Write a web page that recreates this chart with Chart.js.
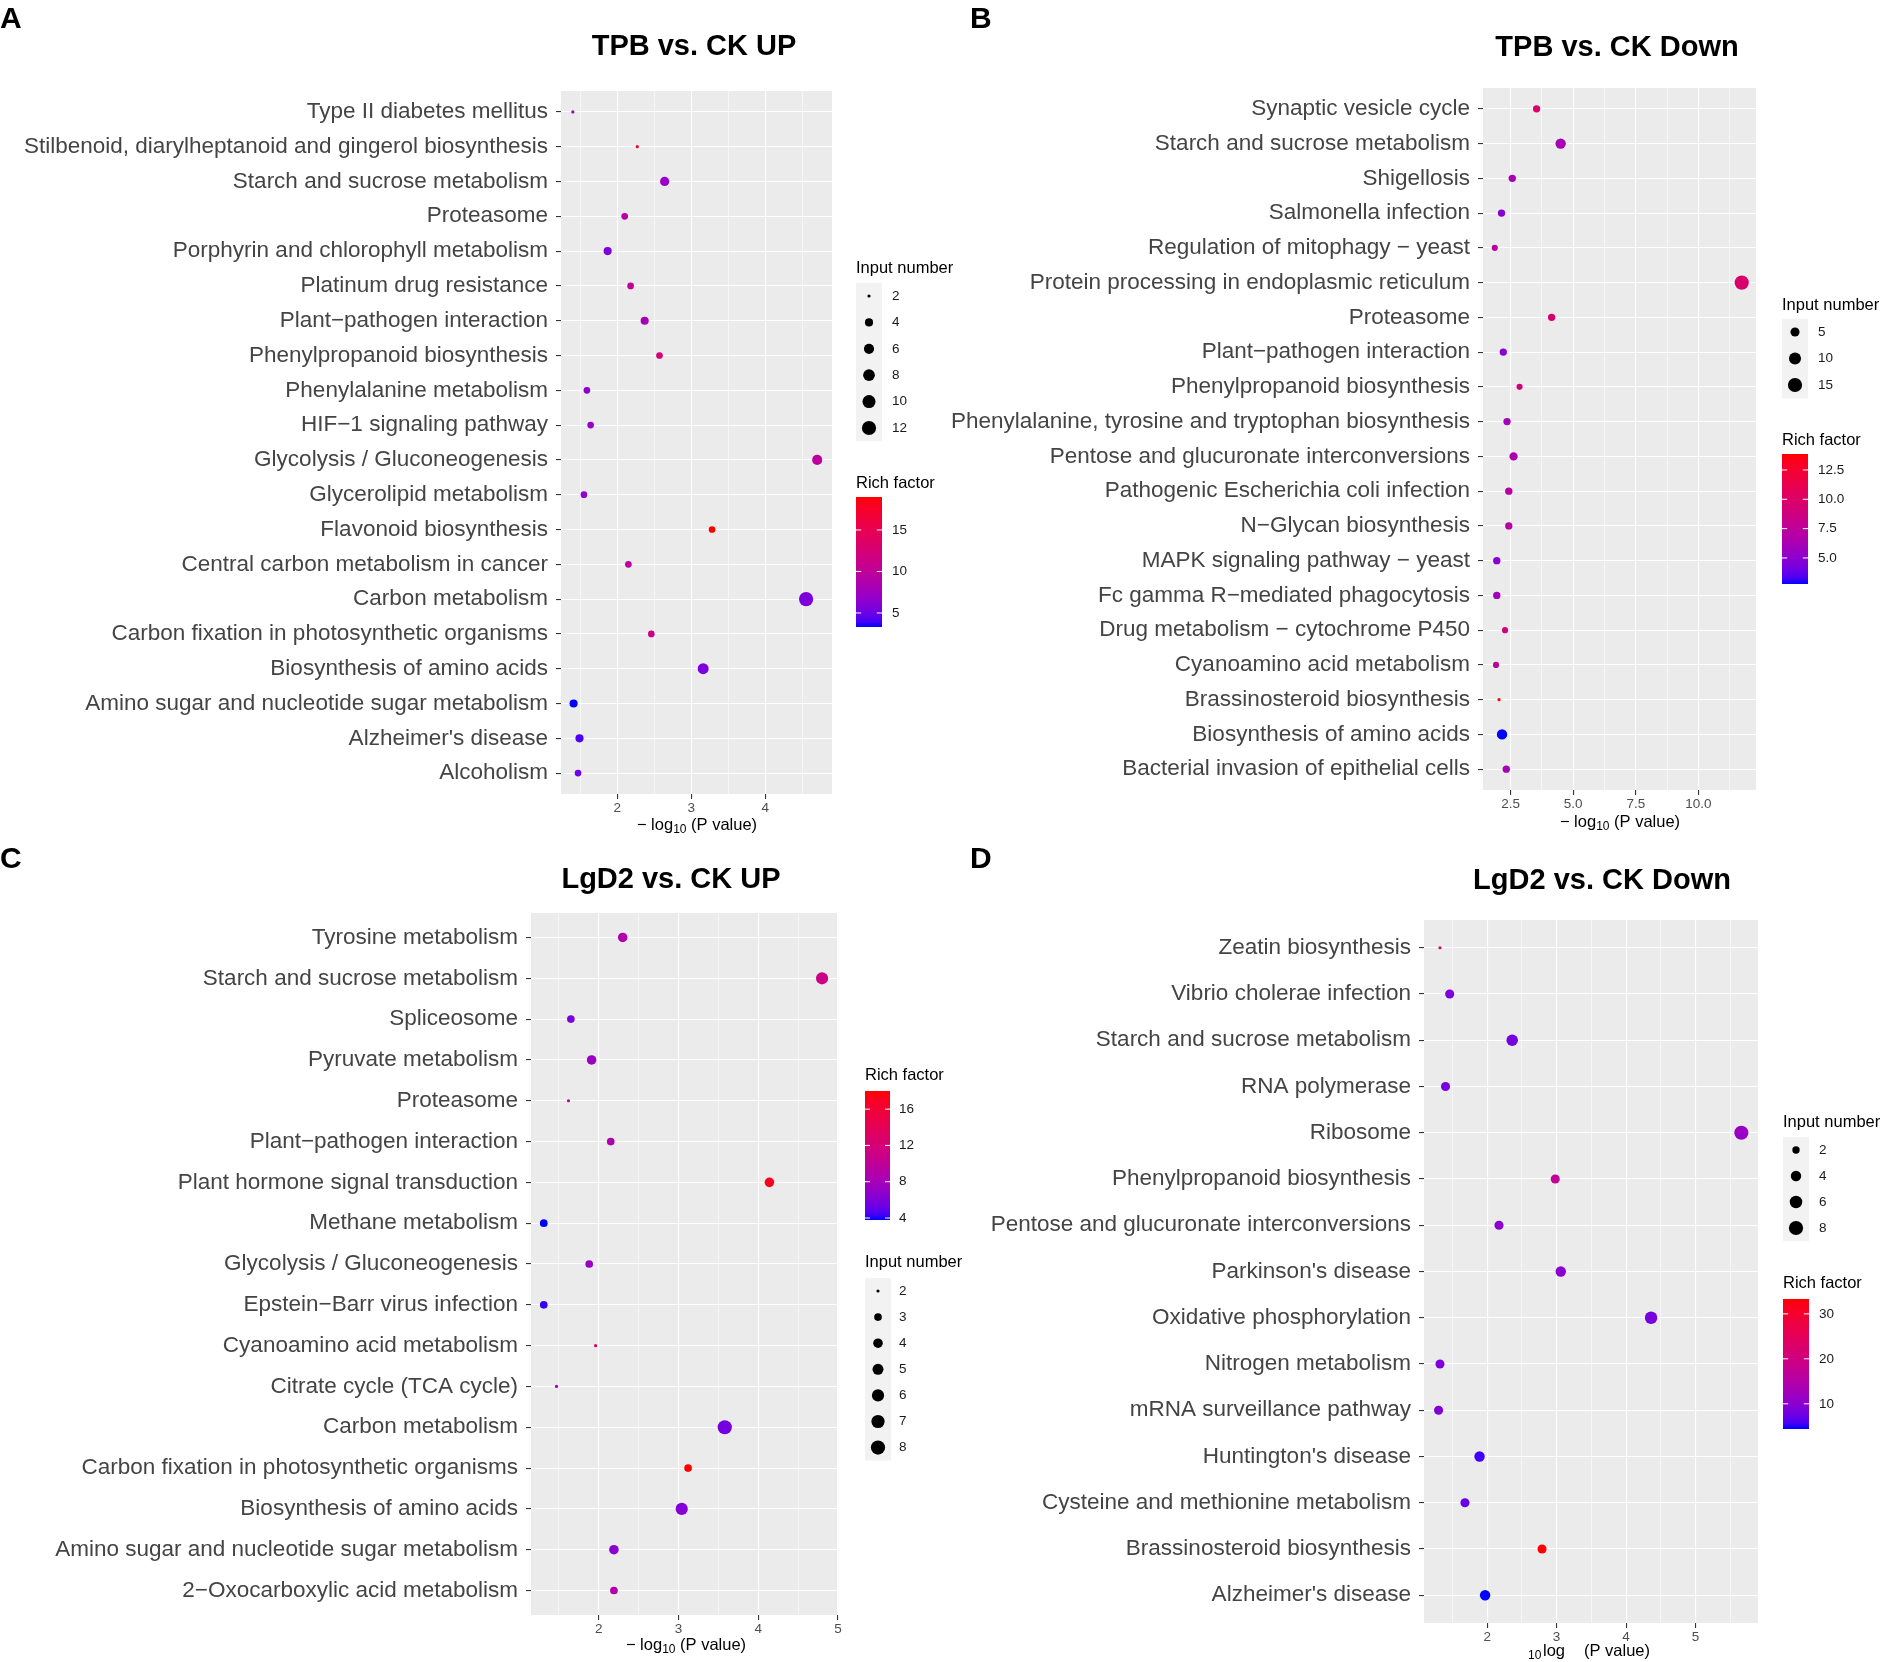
<!DOCTYPE html>
<html>
<head>
<meta charset="utf-8">
<script src="https://cdn.jsdelivr.net/npm/chart.js@4.4.1/dist/chart.umd.min.js"></script>
<style>
  html, body { margin: 0; padding: 0; background: #fff; }
  #wrap { position: relative; width: 1892px; height: 1662px; overflow: hidden; }
  canvas { position: absolute; left: 0; top: 0; }
</style>
</head>
<body>
<div id="wrap">
  <canvas id="pa" width="1892" height="1662"></canvas>
  <canvas id="pb" width="1892" height="1662"></canvas>
  <canvas id="pc" width="1892" height="1662"></canvas>
  <canvas id="pd" width="1892" height="1662"></canvas>
</div>
<script>
// ---- data, rows listed top to bottom as in the figure ----
const aCats = ['Type II diabetes mellitus', 'Stilbenoid, diarylheptanoid and gingerol biosynthesis',
  'Starch and sucrose metabolism', 'Proteasome', 'Porphyrin and chlorophyll metabolism',
  'Platinum drug resistance', 'Plant\u2212pathogen interaction', 'Phenylpropanoid biosynthesis',
  'Phenylalanine metabolism', 'HIF\u22121 signaling pathway', 'Glycolysis / Gluconeogenesis',
  'Glycerolipid metabolism', 'Flavonoid biosynthesis', 'Central carbon metabolism in cancer',
  'Carbon metabolism', 'Carbon fixation in photosynthetic organisms', 'Biosynthesis of amino acids',
  'Amino sugar and nucleotide sugar metabolism', "Alzheimer's disease", 'Alcoholism']
const aLogP = [1.40, 2.27, 2.64, 2.10, 1.87, 2.18, 2.37, 2.57, 1.59, 1.64, 4.70, 1.55, 3.28, 2.15, 4.55, 2.46, 3.16, 1.41, 1.49, 1.47]
const aCount = [2, 2, 5, 3, 4, 3, 4, 3, 3, 3, 6, 3, 3, 3, 12, 3, 7, 4, 4, 3]
const aRich = [7.2, 17.0, 7.0, 9.3, 5.7, 10.3, 8.0, 12.4, 6.4, 7.0, 9.9, 6.8, 18.97, 9.9, 5.7, 11.1, 5.6, 3.31, 4.1, 5.2]
const aSizeBreaks = [2, 4, 6, 8, 10, 12]
const aRichBreaks = [5, 10, 15]

const bCats = ['Synaptic vesicle cycle', 'Starch and sucrose metabolism', 'Shigellosis', 'Salmonella infection',
  'Regulation of mitophagy \u2212 yeast', 'Protein processing in endoplasmic reticulum', 'Proteasome',
  'Plant\u2212pathogen interaction', 'Phenylpropanoid biosynthesis',
  'Phenylalanine, tyrosine and tryptophan biosynthesis', 'Pentose and glucuronate interconversions',
  'Pathogenic Escherichia coli infection', 'N\u2212Glycan biosynthesis', 'MAPK signaling pathway \u2212 yeast',
  'Fc gamma R\u2212mediated phagocytosis', 'Drug metabolism \u2212 cytochrome P450', 'Cyanoamino acid metabolism',
  'Brassinosteroid biosynthesis', 'Biosynthesis of amino acids', 'Bacterial invasion of epithelial cells']
const bLogP = [3.54, 4.50, 2.57, 2.14, 1.87, 11.73, 4.14, 2.21, 2.86, 2.36, 2.62, 2.43, 2.43, 1.95, 1.95, 2.28, 1.92, 2.04, 2.16, 2.33]
const bCount = [3, 7, 3, 3, 2, 15, 3, 3, 2, 3, 4, 3, 3, 3, 3, 2, 2, 1, 7, 3]
const bRich = [9.6, 6.2, 6.2, 4.7, 7.2, 9.7, 9.4, 4.9, 8.9, 5.9, 6.4, 7.0, 7.0, 4.9, 5.9, 8.9, 7.3, 13.86, 2.78, 6.1]
const bSizeBreaks = [5, 10, 15]
const bRichBreaks = [5, 7.5, 10, 12.5]

const cCats = ['Tyrosine metabolism', 'Starch and sucrose metabolism', 'Spliceosome', 'Pyruvate metabolism',
  'Proteasome', 'Plant\u2212pathogen interaction', 'Plant hormone signal transduction', 'Methane metabolism',
  'Glycolysis / Gluconeogenesis', 'Epstein\u2212Barr virus infection', 'Cyanoamino acid metabolism',
  'Citrate cycle (TCA cycle)', 'Carbon metabolism', 'Carbon fixation in photosynthetic organisms',
  'Biosynthesis of amino acids', 'Amino sugar and nucleotide sugar metabolism', '2\u2212Oxocarboxylic acid metabolism']
const cLogP = [2.30, 4.80, 1.65, 1.91, 1.62, 2.15, 4.14, 1.31, 1.88, 1.31, 1.96, 1.47, 3.58, 3.12, 3.04, 2.19, 2.19]
const cCount = [4, 6, 3, 4, 2, 3, 4, 3, 3, 3, 2, 2, 8, 3, 6, 4, 3]
const cRich = [8.8, 10.9, 5.9, 7.3, 9.8, 8.6, 17.3, 3.78, 7.2, 4.1, 13.7, 7.8, 5.6, 18.0, 6.2, 6.5, 8.8]
const cSizeBreaks = [2, 3, 4, 5, 6, 7, 8]
const cRichBreaks = [4, 8, 12, 16]

const dCats = ['Zeatin biosynthesis', 'Vibrio cholerae infection', 'Starch and sucrose metabolism', 'RNA polymerase',
  'Ribosome', 'Phenylpropanoid biosynthesis', 'Pentose and glucuronate interconversions', "Parkinson's disease",
  'Oxidative phosphorylation', 'Nitrogen metabolism', 'mRNA surveillance pathway', "Huntington's disease",
  'Cysteine and methionine metabolism', 'Brassinosteroid biosynthesis', "Alzheimer's disease"]
const dLogP = [1.32, 1.46, 2.36, 1.40, 5.66, 2.98, 2.17, 3.06, 4.36, 1.32, 1.30, 1.89, 1.68, 2.79, 1.97]
const dCount = [1, 3, 5, 3, 8, 3, 3, 4, 6, 3, 3, 4, 3, 3, 4]
const dRich = [23.0, 8.7, 8.0, 8.5, 11.6, 17.4, 10.2, 10.0, 8.5, 9.0, 9.0, 5.5, 7.2, 33.3, 4.4]
const dSizeBreaks = [2, 4, 6, 8]
const dRichBreaks = [10, 20, 30]

const FONT = '"Liberation Sans", Arial, Helvetica, sans-serif'

// blue -> red in Lab space, like scale_colour_gradient
const LAB_LO = [32.302, 79.197, -107.864]
const LAB_HI = [53.241, 80.092, 67.203]
function labColor(t) {
  t = Math.max(0, Math.min(1, t))
  const L = LAB_LO[0] + (LAB_HI[0] - LAB_LO[0]) * t
  const A = LAB_LO[1] + (LAB_HI[1] - LAB_LO[1]) * t
  const B = LAB_LO[2] + (LAB_HI[2] - LAB_LO[2]) * t
  const fy = (L + 16) / 116, fx = fy + A / 500, fz = fy - B / 200
  const inv = f => (f * f * f > 0.008856 ? f * f * f : (116 * f - 16) / 903.3)
  const X = 0.95047 * inv(fx), Y = inv(fy), Z = 1.08883 * inv(fz)
  const lin = [3.2406 * X - 1.5372 * Y - 0.4986 * Z,
    -0.9689 * X + 1.8758 * Y + 0.0415 * Z,
    0.0557 * X - 0.2040 * Y + 1.0570 * Z]
  const rgb = lin.map(c => {
    c = Math.max(0, Math.min(1, c))
    c = c <= 0.0031308 ? 12.92 * c : 1.055 * Math.pow(c, 1 / 2.4) - 0.055
    return Math.round(c * 255)
  })
  return 'rgb(' + rgb.join(',') + ')'
}

// size scale: area-like mapping onto a 1..6 range
function dotRadius(n, lo, hi) {
  return 0.5 + 1.1 * (1 + 5 * Math.sqrt((n - lo) / (hi - lo)))
}

function drawAxisTitle(ctx, p) {
  ctx.fillStyle = '#000000'
  ctx.textAlign = 'left'
  ctx.textBaseline = 'alphabetic'
  if (p.oddAxis) {
    ctx.font = '12px ' + FONT
    ctx.fillText('10', 1528, p.axisY + 3)
    ctx.font = '16.5px ' + FONT
    ctx.fillText('log', 1543, p.axisY)
    ctx.fillText('(P value)', 1584, p.axisY)
    return
  }
  ctx.font = '16.5px ' + FONT
  const w1 = ctx.measureText('\u2212 log').width
  const w3 = ctx.measureText(' (P value)').width
  ctx.font = '12px ' + FONT
  const w2 = ctx.measureText('10').width
  let x = p.axisX - (w1 + w2 + w3) / 2
  ctx.font = '16.5px ' + FONT
  ctx.fillText('\u2212 log', x, p.axisY)
  x += w1
  ctx.font = '12px ' + FONT
  ctx.fillText('10', x, p.axisY + 3)
  x += w2
  ctx.font = '16.5px ' + FONT
  ctx.fillText(' (P value)', x, p.axisY)
}

function decor(p, rLo, rHi, nLo, nHi) {
  return {
    id: 'decor',
    beforeDraw(chart) {
      const a = chart.chartArea
      const ctx = chart.ctx
      ctx.save()
      ctx.fillStyle = '#EBEBEB'
      ctx.fillRect(a.left, a.top, a.right - a.left, a.bottom - a.top)
      ctx.restore()
    },
    afterDraw(chart) {
      const ctx = chart.ctx
      ctx.save()
      ctx.fillStyle = '#000000'
      ctx.textBaseline = 'alphabetic'
      ctx.textAlign = 'left'
      ctx.font = 'bold 30px ' + FONT
      ctx.fillText(p.letter, p.letterX, p.letterY)
      ctx.textAlign = 'center'
      ctx.font = 'bold 29px ' + FONT
      ctx.fillText(p.title, p.titleX, p.titleY)
      drawAxisTitle(ctx, p)

      // size legend
      const s = p.size
      ctx.textAlign = 'left'
      ctx.font = '16.5px ' + FONT
      ctx.fillStyle = '#000000'
      ctx.fillText('Input number', s.x, s.titleY)
      ctx.fillStyle = '#F2F2F2'
      ctx.fillRect(s.x, s.first - s.step / 2, 26, s.step * p.sizeBreaks.length)
      ctx.font = '13.5px ' + FONT
      ctx.textBaseline = 'middle'
      p.sizeBreaks.forEach((b, i) => {
        const cy = s.first + i * s.step
        ctx.fillStyle = '#000000'
        ctx.beginPath()
        ctx.arc(s.x + 13, cy, dotRadius(b, nLo, nHi), 0, Math.PI * 2)
        ctx.fill()
        ctx.fillStyle = '#1A1A1A'
        ctx.fillText(String(b), s.labelX, cy)
      })

      // colour bar
      const c = p.color
      ctx.textBaseline = 'alphabetic'
      ctx.font = '16.5px ' + FONT
      ctx.fillStyle = '#000000'
      ctx.fillText('Rich factor', c.x, c.titleY)
      const g = ctx.createLinearGradient(0, c.y + c.h, 0, c.y)
      for (let k = 0; k <= 24; k++) g.addColorStop(k / 24, labColor(k / 24))
      ctx.fillStyle = g
      ctx.fillRect(c.x, c.y, c.w, c.h)
      ctx.font = '13.5px ' + FONT
      ctx.textBaseline = 'middle'
      p.richBreaks.forEach(b => {
        const yy = c.y + c.h - (b - rLo) / (rHi - rLo) * c.h
        ctx.strokeStyle = '#FFFFFF'
        ctx.lineWidth = 1
        ctx.beginPath()
        ctx.moveTo(c.x, yy); ctx.lineTo(c.x + c.w / 5, yy)
        ctx.moveTo(c.x + c.w - c.w / 5, yy); ctx.lineTo(c.x + c.w, yy)
        ctx.stroke()
        ctx.fillStyle = '#1A1A1A'
        ctx.fillText(p.richFmt(b), c.labelX, yy)
      })
      ctx.restore()
    }
  }
}

function makePanel(p) {
  const n = p.cats.length
  const rLo = Math.min(...p.rich), rHi = Math.max(...p.rich)
  const nLo = Math.min(...p.count), nHi = Math.max(...p.count)
  const points = p.logp.map((x, i) => ({ x: x, y: n - i, r: dotRadius(p.count[i], nLo, nHi) }))
  const colors = p.rich.map(v => labColor((v - rLo) / (rHi - rLo)))
  const isMajor = v => Math.abs(v / p.major - Math.round(v / p.major)) < 1e-6

  new Chart(document.getElementById(p.id), {
    type: 'bubble',
    data: {
      datasets: [{
        data: points,
        backgroundColor: colors,
        borderWidth: 0,
        hoverBorderWidth: 0,
        hoverRadius: 0
      }]
    },
    options: {
      responsive: false,
      animation: false,
      devicePixelRatio: 1,
      events: [],
      layout: {
        padding: { left: 0, top: p.plot.top, right: 1892 - p.plot.right, bottom: 1662 - p.plot.bottom - 30 }
      },
      plugins: { legend: { display: false }, tooltip: { enabled: false } },
      scales: {
        x: {
          type: 'linear',
          min: p.xMin,
          max: p.xMax,
          afterBuildTicks: scale => {
            const t = []
            for (let k = Math.ceil(p.xMin / p.minor - 1e-9); k * p.minor <= p.xMax + 1e-9; k++) {
              t.push({ value: +(k * p.minor).toFixed(4) })
            }
            scale.ticks = t
          },
          afterFit: scale => { scale.height = 30; scale.paddingLeft = 0; scale.paddingRight = 0 },
          border: { display: false },
          grid: {
            color: '#FFFFFF',
            lineWidth: ctx => (ctx.tick && isMajor(ctx.tick.value) ? 1.1 : 0.55),
            tickColor: ctx => (ctx.tick && isMajor(ctx.tick.value) ? '#333333' : 'rgba(0,0,0,0)'),
            tickLength: 5,
            tickWidth: 1.1
          },
          ticks: {
            autoSkip: false,
            maxRotation: 0,
            padding: 1,
            color: '#4D4D4D',
            font: { family: FONT, size: 13.5 },
            callback: v => (isMajor(v) ? p.fmt(v) : '')
          }
        },
        y: {
          type: 'linear',
          min: 0.4,
          max: n + 0.6,
          afterBuildTicks: scale => { scale.ticks = p.cats.map((c, i) => ({ value: i + 1 })) },
          afterFit: scale => { scale.width = p.plot.left; scale.paddingTop = 0; scale.paddingBottom = 0 },
          border: { display: false },
          grid: { color: '#FFFFFF', lineWidth: 1.1, tickColor: '#333333', tickLength: 5, tickWidth: 1.1 },
          ticks: {
            autoSkip: false,
            padding: 8,
            color: '#444444',
            font: { family: FONT, size: 22.5 },
            callback: v => p.cats[n - v]
          }
        }
      }
    },
    plugins: [decor(p, rLo, rHi, nLo, nHi)]
  })
}

const intFmt = v => String(v)
const oneDec = v => v.toFixed(1)

makePanel({
  id: 'pa', cats: aCats, logp: aLogP, count: aCount, rich: aRich,
  sizeBreaks: aSizeBreaks, richBreaks: aRichBreaks,
  plot: { left: 561, right: 832, top: 91, bottom: 794 },
  xMin: 1.24, xMax: 4.9, minor: 0.5, major: 1, fmt: intFmt, richFmt: intFmt,
  letter: 'A', letterX: 0, letterY: 28,
  title: 'TPB vs. CK UP', titleX: 694, titleY: 55,
  axisX: 697, axisY: 830,
  size: { x: 856, titleY: 273, first: 296, step: 26.4, labelX: 892 },
  color: { x: 856, titleY: 488, y: 497, h: 130, w: 26, labelX: 892 }
})

makePanel({
  id: 'pb', cats: bCats, logp: bLogP, count: bCount, rich: bRich,
  sizeBreaks: bSizeBreaks, richBreaks: bRichBreaks,
  plot: { left: 1483, right: 1756, top: 88, bottom: 790 },
  xMin: 1.4, xMax: 12.3, minor: 1.25, major: 2.5, fmt: oneDec, richFmt: oneDec,
  letter: 'B', letterX: 970, letterY: 28,
  title: 'TPB vs. CK Down', titleX: 1617, titleY: 56,
  axisX: 1620, axisY: 827,
  size: { x: 1782, titleY: 310, first: 332, step: 26.5, labelX: 1818 },
  color: { x: 1782, titleY: 445, y: 454, h: 130, w: 26, labelX: 1818 }
})

makePanel({
  id: 'pc', cats: cCats, logp: cLogP, count: cCount, rich: cRich,
  sizeBreaks: cSizeBreaks, richBreaks: cRichBreaks,
  plot: { left: 531, right: 838, top: 913, bottom: 1615 },
  xMin: 1.15, xMax: 5.0, minor: 0.5, major: 1, fmt: intFmt, richFmt: intFmt,
  letter: 'C', letterX: 0, letterY: 868,
  title: 'LgD2 vs. CK UP', titleX: 671, titleY: 888,
  axisX: 686, axisY: 1650,
  size: { x: 865, titleY: 1267, first: 1291, step: 26.1, labelX: 899 },
  color: { x: 865, titleY: 1080, y: 1091, h: 129, w: 25, labelX: 899 }
})

makePanel({
  id: 'pd', cats: dCats, logp: dLogP, count: dCount, rich: dRich,
  sizeBreaks: dSizeBreaks, richBreaks: dRichBreaks,
  plot: { left: 1424, right: 1758, top: 920, bottom: 1623 },
  xMin: 1.09, xMax: 5.9, minor: 0.5, major: 1, fmt: intFmt, richFmt: intFmt,
  letter: 'D', letterX: 970, letterY: 868,
  title: 'LgD2 vs. CK Down', titleX: 1602, titleY: 889,
  axisX: 1591, axisY: 1656, oddAxis: true,
  size: { x: 1783, titleY: 1127, first: 1150, step: 26, labelX: 1819 },
  color: { x: 1783, titleY: 1288, y: 1299, h: 130, w: 26, labelX: 1819 }
})
</script>
</body>
</html>
